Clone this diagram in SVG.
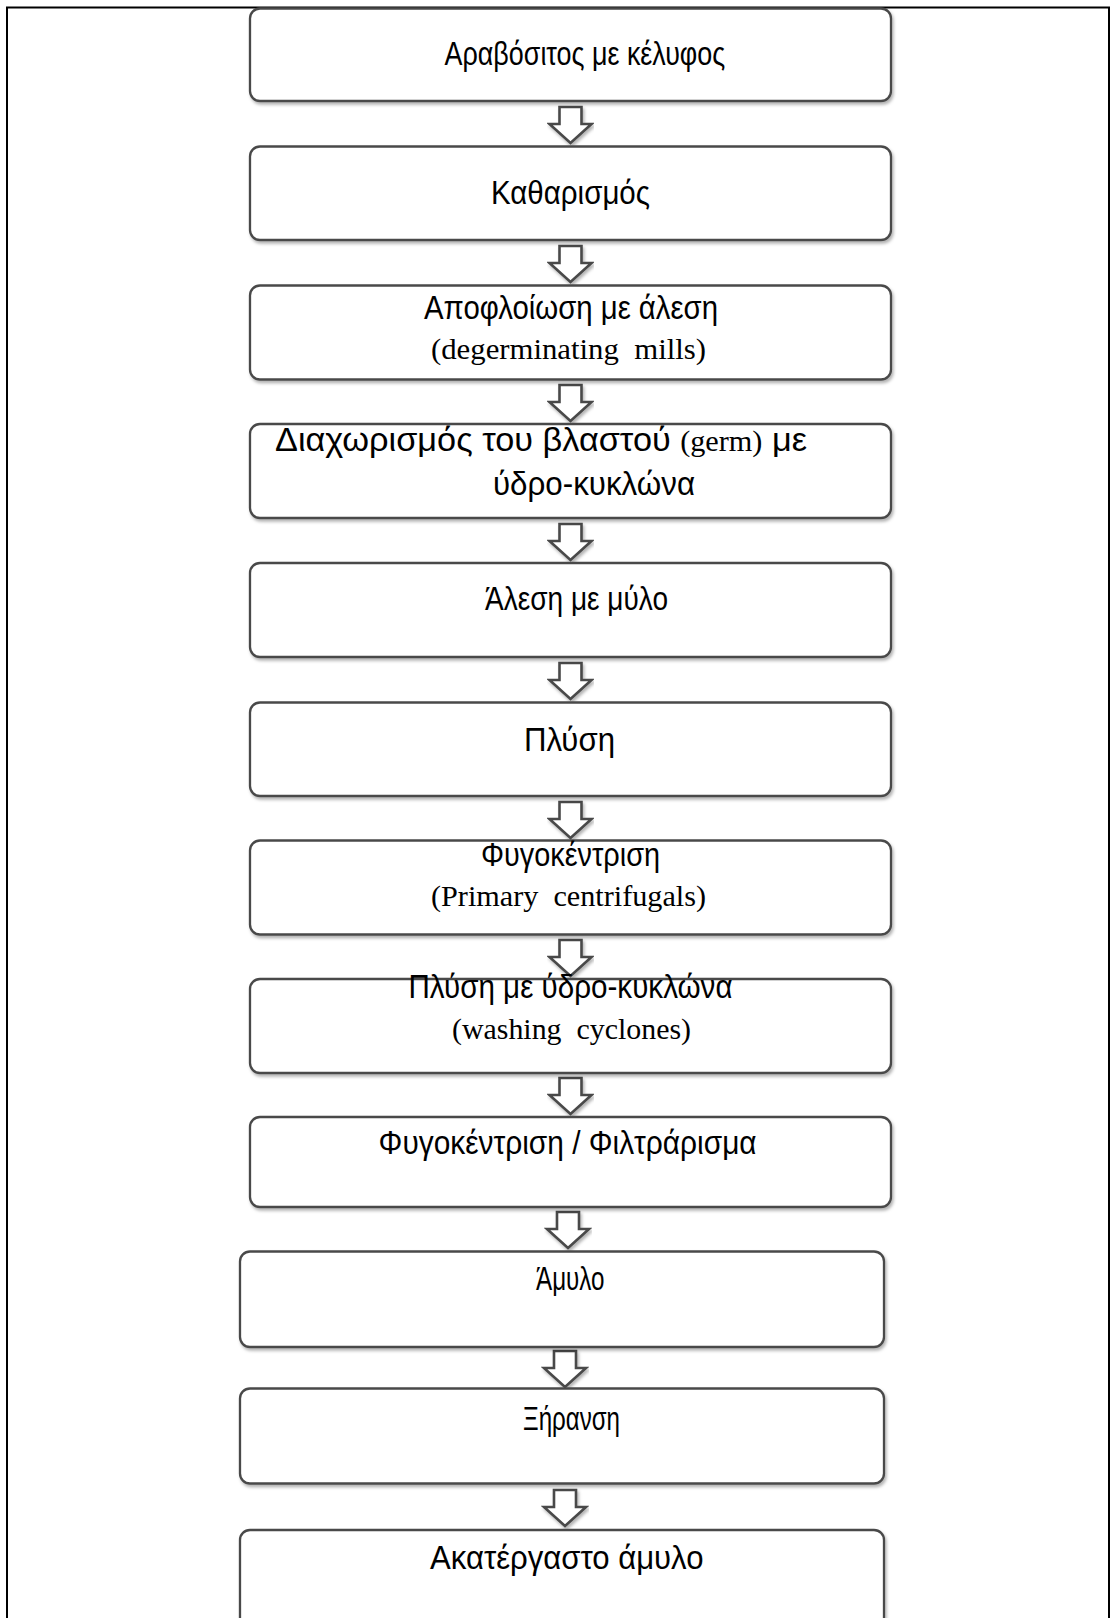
<svg xmlns="http://www.w3.org/2000/svg" width="1110" height="1618" viewBox="0 0 1110 1618">
<style>
.box{fill:#fff;stroke:#4a4a4a;stroke-width:2.3;filter:url(#sh)}
.arr{fill:#fff;stroke:#4a4a4a;stroke-width:2.6;stroke-linejoin:miter;filter:url(#sh)}
.gr{font-family:"Liberation Sans","DejaVu Sans",sans-serif;font-size:34px;fill:#000}
.en{font-family:"Liberation Serif","DejaVu Serif",serif;font-size:30px;fill:#000}
.frame{stroke:#000;stroke-width:2;fill:none}
</style>
<defs>
<filter id="sh" x="-5%" y="-10%" width="110%" height="130%">
<feDropShadow dx="1.5" dy="2.5" stdDeviation="1.5" flood-color="#000" flood-opacity="0.3"/>
</filter>
<path id="arrow" d="M-11,0 H11 V17 H21 L0,36 L-21,17 H-11 Z"/>
</defs>
<rect width="1110" height="1618" fill="#fff"/>
<g id="frame">
<path class="frame" d="M7,1618 V7.5 H1110"/>
<path class="frame" d="M1109,7.5 V1618"/>
</g>
<g id="connectors">
<use href="#arrow" class="arr" x="570.5" y="107"/>
<use href="#arrow" class="arr" x="570.5" y="246"/>
<use href="#arrow" class="arr" x="570.5" y="385"/>
<use href="#arrow" class="arr" x="570.5" y="524"/>
<use href="#arrow" class="arr" x="570.5" y="663"/>
<use href="#arrow" class="arr" x="570.5" y="802"/>
<use href="#arrow" class="arr" x="570.5" y="940"/>
<use href="#arrow" class="arr" x="570.5" y="1078"/>
<use href="#arrow" class="arr" x="568" y="1212"/>
<use href="#arrow" class="arr" x="565" y="1351"/>
<use href="#arrow" class="arr" x="565" y="1490"/>
</g>
<g id="n1"><rect class="box" x="250" y="8.5" width="641" height="92.5" rx="10"/>
<text class="gr" x="444.6" y="65" textLength="280.6" lengthAdjust="spacingAndGlyphs">Αραβόσιτος με κέλυφος</text></g>
<g id="n2"><rect class="box" x="250" y="146.5" width="641" height="93.5" rx="10"/>
<text class="gr" x="491" y="204" textLength="159" lengthAdjust="spacingAndGlyphs">Καθαρισμός</text></g>
<g id="n3"><rect class="box" x="250" y="285.5" width="641" height="94" rx="10"/>
<text class="gr" x="424" y="318.5" textLength="294" lengthAdjust="spacingAndGlyphs">Αποφλοίωση με άλεση</text>
<text class="en" x="431" y="359" textLength="275" lengthAdjust="spacingAndGlyphs" xml:space="preserve">(degerminating  mills)</text></g>
<g id="n4"><rect class="box" x="250" y="424" width="641" height="94" rx="10"/>
<text class="gr" x="275" y="450.5" textLength="532" lengthAdjust="spacingAndGlyphs" xml:space="preserve">Διαχωρισμός του βλαστού <tspan class="en">(germ)</tspan> με</text>
<text class="gr" x="493" y="495" textLength="202" lengthAdjust="spacingAndGlyphs">ύδρο-κυκλώνα</text></g>
<g id="n5"><rect class="box" x="250" y="563" width="641" height="94" rx="10"/>
<text class="gr" x="485" y="610" textLength="183" lengthAdjust="spacingAndGlyphs">Άλεση με μύλο</text></g>
<g id="n6"><rect class="box" x="250" y="702.5" width="641" height="93.5" rx="10"/>
<text class="gr" x="524" y="751" textLength="91" lengthAdjust="spacingAndGlyphs">Πλύση</text></g>
<g id="n7"><rect class="box" x="250" y="840.5" width="641" height="94" rx="10"/>
<text class="gr" x="481" y="866" textLength="179" lengthAdjust="spacingAndGlyphs">Φυγοκέντριση</text>
<text class="en" x="431" y="906" textLength="275" lengthAdjust="spacingAndGlyphs" xml:space="preserve">(Primary  centrifugals)</text></g>
<g id="n8"><rect class="box" x="250" y="979" width="641" height="94" rx="10"/>
<text class="gr" x="408.5" y="998" textLength="324" lengthAdjust="spacingAndGlyphs">Πλύση με ύδρο-κυκλώνα</text>
<text class="en" x="452" y="1039" textLength="239" lengthAdjust="spacingAndGlyphs" xml:space="preserve">(washing  cyclones)</text></g>
<g id="n9"><rect class="box" x="250" y="1117" width="641" height="90" rx="10"/>
<text class="gr" x="378.6" y="1154" textLength="378" lengthAdjust="spacingAndGlyphs">Φυγοκέντριση / Φιλτράρισμα</text></g>
<g id="n10"><rect class="box" x="240" y="1251.5" width="644" height="95.5" rx="10"/>
<text class="gr" x="536" y="1290" textLength="68.5" lengthAdjust="spacingAndGlyphs">Άμυλο</text></g>
<g id="n11"><rect class="box" x="240" y="1388.5" width="644" height="95" rx="10"/>
<text class="gr" x="523" y="1429.5" textLength="97" lengthAdjust="spacingAndGlyphs">Ξήρανση</text></g>
<g id="n12"><rect class="box" x="240" y="1530" width="644" height="120" rx="10"/>
<text class="gr" x="430" y="1568.5" textLength="273.5" lengthAdjust="spacingAndGlyphs">Ακατέργαστο άμυλο</text></g>
</svg>
